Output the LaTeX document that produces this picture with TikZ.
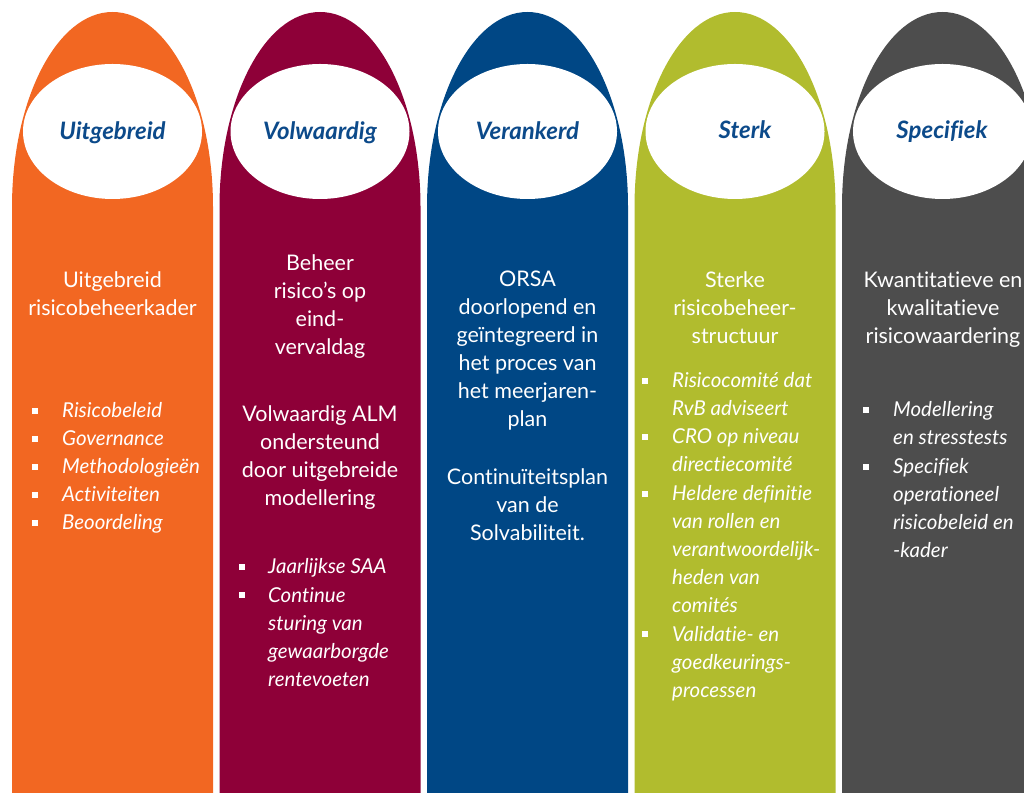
\documentclass[tikz,border=0pt]{standalone}
\usepackage{fontspec}
\setmainfont{Lato}[Ligatures={NoCommon}]
\usetikzlibrary{shapes.geometric}
\definecolor{colorange}{HTML}{F26722}
\definecolor{colwine}{HTML}{8E0038}
\definecolor{colblue}{HTML}{004785}
\definecolor{collime}{HTML}{B1BC2E}
\definecolor{colgray}{HTML}{4D4D4D}
\definecolor{headblue}{HTML}{0C4A8A}
% pillar with an elliptic top: #1 = left edge, #2 = fill colour
\newcommand\archcolumn[2]{%
  \fill[#2] (#1,-1) -- (#1,585)
    arc[start angle=180,end angle=0,x radius=100.5pt,y radius=195pt]
    -- ++(0,-586) -- cycle;}
\begin{document}
\begin{tikzpicture}[x=1pt,y=1pt,
  % multi-line nodes: the base anchor sits on the last line's baseline
  body/.style={text=white,font=\fontsize{21.5}{28}\selectfont,align=center,inner sep=0pt,anchor=base},
  item/.style={text=white,font=\fontsize{20.5}{28}\selectfont\itshape,align=left,inner sep=0pt,anchor=base west},
  bul/.style={fill=white,minimum size=6.5pt,inner sep=0pt},
  hole/.style={ellipse,fill=white,minimum width=179pt,minimum height=135pt,inner sep=0pt},
  head/.style={text=headblue,font=\fontsize{24}{28}\selectfont\bfseries\itshape,inner sep=0pt,anchor=base}]
\useasboundingbox (0,0) rectangle (1024,792);
\clip (0,0) rectangle (1024,792);

% the five pillars
\archcolumn{12}{colorange}
\archcolumn{219.5}{colwine}
\archcolumn{427}{colblue}
\archcolumn{634.5}{collime}
\archcolumn{842}{colgray}

% white ovals carrying the headings
\node[hole] (e1) at (112.5,660.5) {};
\node[hole] (e2) at (320,660.5) {};
\node[hole] (e3) at (527.5,660.5) {};
\node[hole] (e4) at (735,660.5) {};
\node[hole] (e5) at (942.5,660.5) {};
\node[head] (h1) at (112.5,652) {Uitgebreid};
\node[head] (h2) at (320,652) {Volwaardig};
\node[head] (h3) at (527.5,652) {Verankerd};
\node[head] (h4) at (745,653) {Sterk};
\node[head] (h5) at (942,653) {Specifiek};

% column 1
\node[body] (t1) at (112.5,476) {Uitgebreid\\risicobeheerkader};
\node[bul] (b1a) at (35,381) {};
\node[bul] (b1b) at (35,353) {};
\node[bul] (b1c) at (35,325) {};
\node[bul] (b1d) at (35,297) {};
\node[bul] (b1e) at (35,269) {};
\node[item] (i1a) at (62,374) {Risicobeleid};
\node[item] (i1b) at (62,346) {Governance};
\node[item] (i1c) at (62,318) {Methodologieën};
\node[item] (i1d) at (62,290) {Activiteiten};
\node[item] (i1e) at (62,262) {Beoordeling};

% column 2
\node[body] (t2a) at (320,437) {Beheer\\risico’s op\\eind-\\vervaldag};
\node[body] (t2b) at (320,286) {Volwaardig ALM\\ondersteund\\door uitgebreide\\modellering};
\node[bul] (b2a) at (242,225) {};
\node[bul] (b2b) at (242,197) {};
\node[item] (i2a) at (268,218) {Jaarlijkse SAA};
\node[item] (i2b) at (268,106) {Continue\\sturing van\\gewaarborgde\\rentevoeten};

% column 3
\node[body] (t3a) at (527.5,365) {ORSA\\doorlopend en\\geïntegreerd in\\het proces van\\het meerjaren-\\plan};
\node[body] (t3b) at (527.5,251) {Continuïteitsplan\\van de\\Solvabiliteit.};

% column 4
\node[body] (t4) at (735,448) {Sterke\\risicobeheer-\\structuur};
\node[bul] (b4a) at (645,411) {};
\node[bul] (b4b) at (645,355) {};
\node[bul] (b4c) at (645,298) {};
\node[bul] (b4d) at (645,158) {};
\node[item] (i4a) at (672,376) {Risicocomité dat\\RvB adviseert};
\node[item] (i4b) at (672,320) {CRO op niveau\\directiecomité};
\node[item] (i4c) at (672,179) {Heldere definitie\\van rollen en\\verantwoordelijk-\\heden van\\comités};
\node[item] (i4d) at (672,95) {Validatie- en\\goedkeurings-\\processen};

% column 5
\node[body] (t5) at (943,448) {Kwantitatieve en\\kwalitatieve\\risicowaardering};
\node[bul] (b5a) at (866,382) {};
\node[bul] (b5b) at (866,325) {};
\node[item] (i5a) at (893,347) {Modellering\\en stresstests};
\node[item] (i5b) at (893,234) {Specifiek\\operationeel\\risicobeleid en\\-kader};
\end{tikzpicture}
\end{document}
